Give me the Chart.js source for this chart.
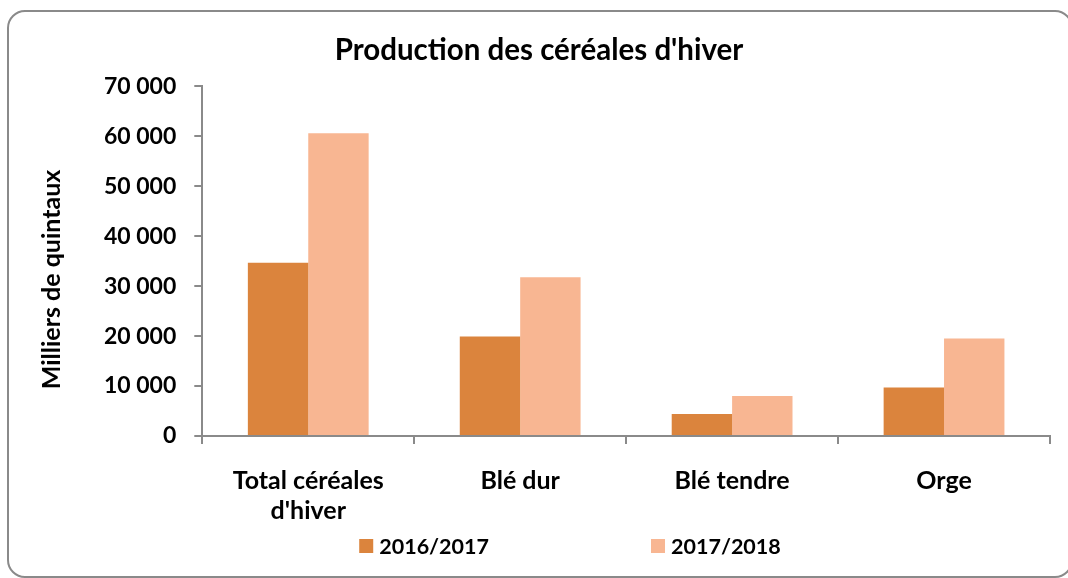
<!DOCTYPE html>
<html>
<head>
<meta charset="utf-8">
<script src="https://cdn.jsdelivr.net/npm/chart.js@4.4.1/dist/chart.umd.min.js"></script>
<style>
  html, body { margin: 0; padding: 0; background: #fff; }
  #wrap { position: relative; width: 1068px; height: 578px; overflow: hidden; }
  #frame {
    position: absolute; left: 7px; top: 10px; width: 1062px; height: 564px;
    border: 2px solid #8a8a8a; border-radius: 18px;
  }
  #chart { position: absolute; left: 0; top: 0; }
</style>
</head>
<body>
<div id="wrap">
  <div id="frame"></div>
  <canvas id="chart" width="1068" height="578"></canvas>
</div>
<script>
// données (milliers de quintaux)
const categories = [['Total céréales', "d'hiver"], 'Blé dur', 'Blé tendre', 'Orge'];
const seriesNames = ['2016/2017', '2017/2018'];
const values2016 = [34700, 19900, 4400, 9700];
const values2017 = [60600, 31800, 8000, 19500];
const colors = ['#DB843D', '#F8B692'];

const FONT = 'Lato, "Open Sans", sans-serif';

// légende dessinée à la main : les deux entrées sont très espacées
const wideLegend = {
  id: 'wideLegend',
  afterDraw( chart, args, opts ) {
    const c = chart.ctx;
    c.save();
    c.font = `bold ${opts.fontSize}px ${FONT}`;
    c.textBaseline = 'middle';
    c.textAlign = 'left';

    const items = chart.data.datasets.map( ( ds ) => ({
      label: ds.label,
      color: ds.backgroundColor,
      width: opts.box + opts.gap + c.measureText( ds.label ).width
    }));

    const total = items.reduce( ( s, it ) => s + it.width, 0 ) + opts.spacing * ( items.length - 1 );
    let x = opts.centerX - total / 2;

    for ( const it of items ) {
      c.fillStyle = it.color;
      c.fillRect( x, opts.y - opts.box / 2, opts.box, opts.box );
      c.fillStyle = '#000';
      c.fillText( it.label, x + opts.box + opts.gap, opts.y + 1 );
      x += it.width + opts.spacing;
    }
    c.restore();
  }
};

const ctx = document.querySelector('#chart');

const chart = new Chart( ctx, {
  type: 'bar',
  data: {
    labels: categories,
    datasets: [
      {
        label: seriesNames[0],
        data: values2016,
        backgroundColor: colors[0],
        borderWidth: 0,
        barPercentage: 1,
        categoryPercentage: 0.57
      },
      {
        label: seriesNames[1],
        data: values2017,
        backgroundColor: colors[1],
        borderWidth: 0,
        barPercentage: 1,
        categoryPercentage: 0.57
      }
    ]
  },
  options: {
    responsive: false,
    animation: false,
    layout: {
      padding: { left: 28, right: 18, top: 33, bottom: 30 }
    },
    plugins: {
      title: {
        display: true,
        text: "Production des céréales d'hiver",
        color: '#000',
        font: { family: FONT, size: 29.5, weight: 'bold' },
        padding: { top: 0, bottom: 18 }
      },
      legend: { display: false },
      tooltip: { enabled: false },
      wideLegend: {
        fontSize: 21.5,
        box: 14,
        gap: 6,
        spacing: 162,
        centerX: 570,
        y: 546
      }
    },
    scales: {
      x: {
        grid: {
          display: true,
          offset: true,
          drawOnChartArea: false,
          drawTicks: true,
          tickLength: 8,
          color: '#8a8a8a',
          lineWidth: 2
        },
        border: { color: '#8a8a8a', width: 2 },
        ticks: {
          color: '#000',
          font: { family: FONT, size: 25, weight: 'bold', lineHeight: 1.2 },
          padding: 22,
          maxRotation: 0,
          autoSkip: false
        }
      },
      y: {
        min: 0,
        max: 70000,
        grid: {
          display: true,
          drawOnChartArea: false,
          drawTicks: true,
          tickLength: 8,
          color: '#8a8a8a',
          lineWidth: 2
        },
        border: { color: '#8a8a8a', width: 2 },
        ticks: {
          stepSize: 10000,
          autoSkip: false,
          color: '#000',
          font: { family: FONT, size: 23, weight: 'bold' },
          padding: 18,
          callback: ( value ) => String( value ).replace( /\B(?=(\d{3})+(?!\d))/g, ' ' )
        },
        title: {
          display: true,
          // espaces en fin de texte : le titre est un peu plus bas que le centre de l'axe
          text: 'Milliers de quintaux      ',
          color: '#000',
          font: { family: FONT, size: 25, weight: 'bold' },
          padding: { top: 9, bottom: 19 }
        }
      }
    }
  },
  plugins: [ wideLegend ]
});
</script>
</body>
</html>
